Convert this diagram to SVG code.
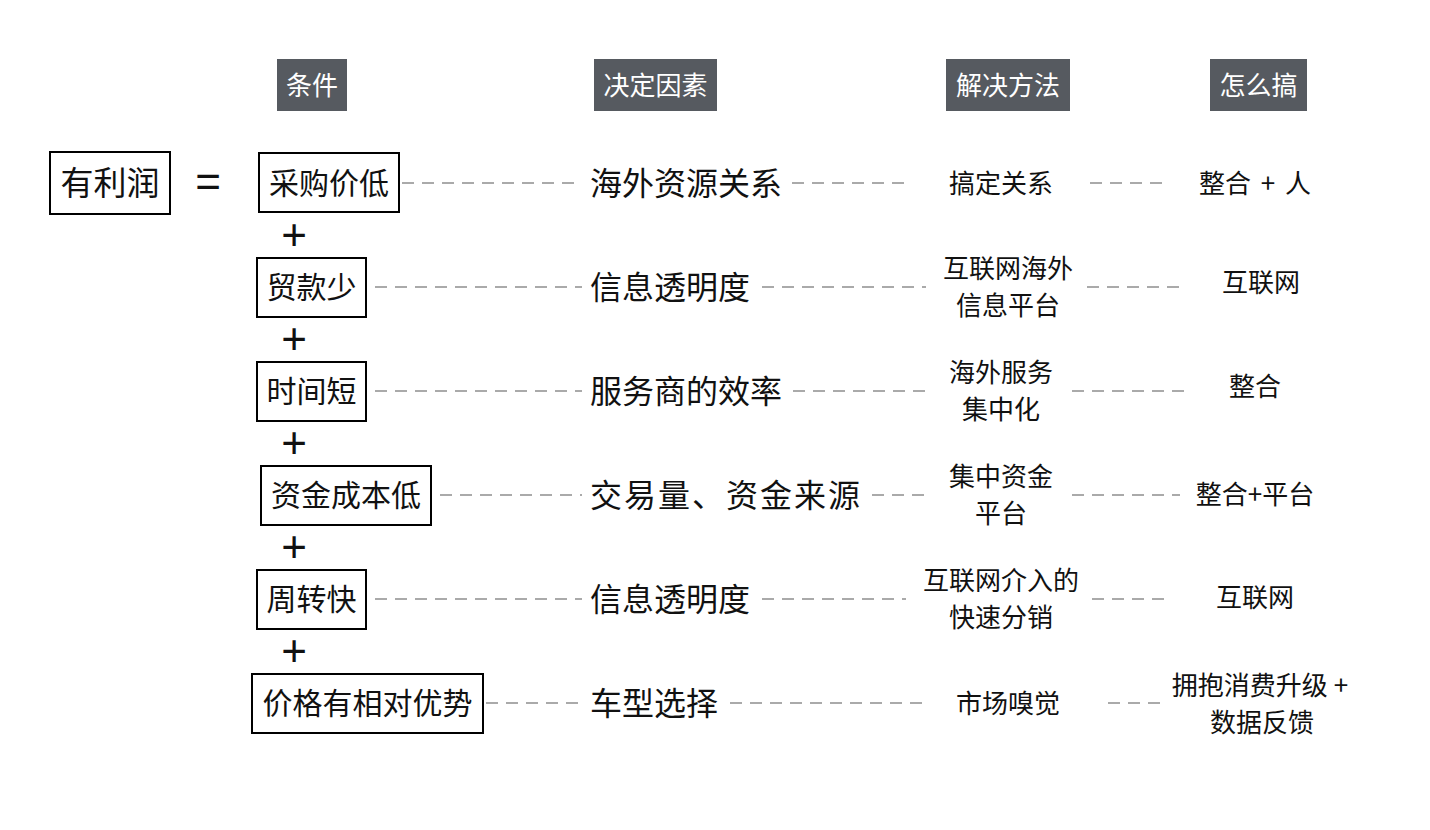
<svg xmlns="http://www.w3.org/2000/svg" width="1430" height="830" viewBox="0 0 1430 830">
<style>
text{font-family:"Noto Sans CJK SC","Noto Sans",sans-serif;fill:#111;dominant-baseline:central}
.hd rect{fill:#565a60}
.hd text{fill:#fff;font-size:26px;text-anchor:middle}
.box rect{fill:#fff;stroke:#000;stroke-width:2}
.box text{font-size:30px;text-anchor:middle}
.c2{font-size:32px}
.c3,.c4{font-size:26px;text-anchor:middle}
.op{font-family:"Liberation Sans",sans-serif;font-size:44px;text-anchor:middle}
.dash line{stroke:#aaa;stroke-width:2;stroke-dasharray:12 8}
</style>
<rect width="1430" height="830" fill="#fff"/>
<g id="headers" class="hd">
<g id="h1"><rect x="277" y="59" width="70" height="52"/><text x="312" y="83">条件</text></g>
<g id="h2"><rect x="594" y="59" width="123" height="52"/><text x="655.5" y="83">决定因素</text></g>
<g id="h3"><rect x="946" y="59" width="124" height="52"/><text x="1008" y="83">解决方法</text></g>
<g id="h4"><rect x="1210" y="59" width="97" height="52"/><text x="1258.5" y="83">怎么搞</text></g>
</g>
<g id="connectors" class="dash">
<line x1="402" y1="183" x2="582" y2="183"/><line x1="792" y1="183" x2="906" y2="183"/><line x1="1090" y1="183" x2="1166" y2="183"/>
<line x1="375" y1="287" x2="582" y2="287"/><line x1="762" y1="287" x2="926" y2="287"/><line x1="1087" y1="287" x2="1186" y2="287"/>
<line x1="375" y1="391" x2="582" y2="391"/><line x1="793" y1="391" x2="926" y2="391"/><line x1="1072" y1="391" x2="1186" y2="391"/>
<line x1="440" y1="495" x2="582" y2="495"/><line x1="872" y1="495" x2="926" y2="495"/><line x1="1072" y1="495" x2="1180" y2="495"/>
<line x1="375" y1="599" x2="582" y2="599"/><line x1="762" y1="599" x2="906" y2="599"/><line x1="1092" y1="599" x2="1166" y2="599"/>
<line x1="486" y1="703" x2="582" y2="703"/><line x1="730" y1="703" x2="922" y2="703"/><line x1="1108" y1="703" x2="1162" y2="703"/>
</g>
<g id="profit" class="box"><rect x="50" y="152" width="120" height="62"/><text x="110" y="181" style="font-size:33px">有利润</text></g>
<text class="op" x="208" y="181">=</text>
<g id="cond1" class="box"><rect x="259" y="153" width="140" height="59"/><text x="329" y="181">采购价低</text></g>
<g id="cond2" class="box"><rect x="257" y="258" width="109" height="59"/><text x="311.5" y="285">贸款少</text></g>
<g id="cond3" class="box"><rect x="257" y="362" width="109" height="59"/><text x="311.5" y="389">时间短</text></g>
<g id="cond4" class="box"><rect x="261" y="466" width="170" height="59"/><text x="346" y="493">资金成本低</text></g>
<g id="cond5" class="box"><rect x="257" y="570" width="109" height="59"/><text x="311.5" y="597">周转快</text></g>
<g id="cond6" class="box"><rect x="252" y="674" width="231" height="59"/><text x="367.5" y="701">价格有相对优势</text></g>
<g id="plus">
<text class="op" x="294" y="234">+</text>
<text class="op" x="294" y="338">+</text>
<text class="op" x="294" y="442">+</text>
<text class="op" x="294" y="546">+</text>
<text class="op" x="294" y="650">+</text>
</g>
<g id="factors">
<text class="c2" x="590" y="181">海外资源关系</text>
<text class="c2" x="590" y="285">信息透明度</text>
<text class="c2" x="590" y="389">服务商的效率</text>
<text class="c2" x="590" y="493" style="letter-spacing:2px">交易量、资金来源</text>
<text class="c2" x="590" y="597">信息透明度</text>
<text class="c2" x="590" y="701">车型选择</text>
</g>
<g id="methods">
<text class="c3" x="1001" y="181">搞定关系</text>
<text class="c3" x="1008" y="266">互联网海外</text><text class="c3" x="1008" y="303">信息平台</text>
<text class="c3" x="1001" y="370">海外服务</text><text class="c3" x="1001" y="407">集中化</text>
<text class="c3" x="1001" y="474">集中资金</text><text class="c3" x="1001" y="511">平台</text>
<text class="c3" x="1001" y="578">互联网介入的</text><text class="c3" x="1001" y="615">快速分销</text>
<text class="c3" x="1008" y="701">市场嗅觉</text>
</g>
<g id="how">
<text class="c4" x="1255" y="181" xml:space="preserve" style="word-spacing:4px">整合 + 人</text>
<text class="c4" x="1261" y="280">互联网</text>
<text class="c4" x="1255" y="384">整合</text>
<text class="c4" x="1255" y="492">整合+平台</text>
<text class="c4" x="1255" y="595">互联网</text>
<text class="c4" x="1260" y="683">拥抱消费升级 +</text>
<text class="c4" x="1262" y="720">数据反馈</text>
</g>
</svg>
